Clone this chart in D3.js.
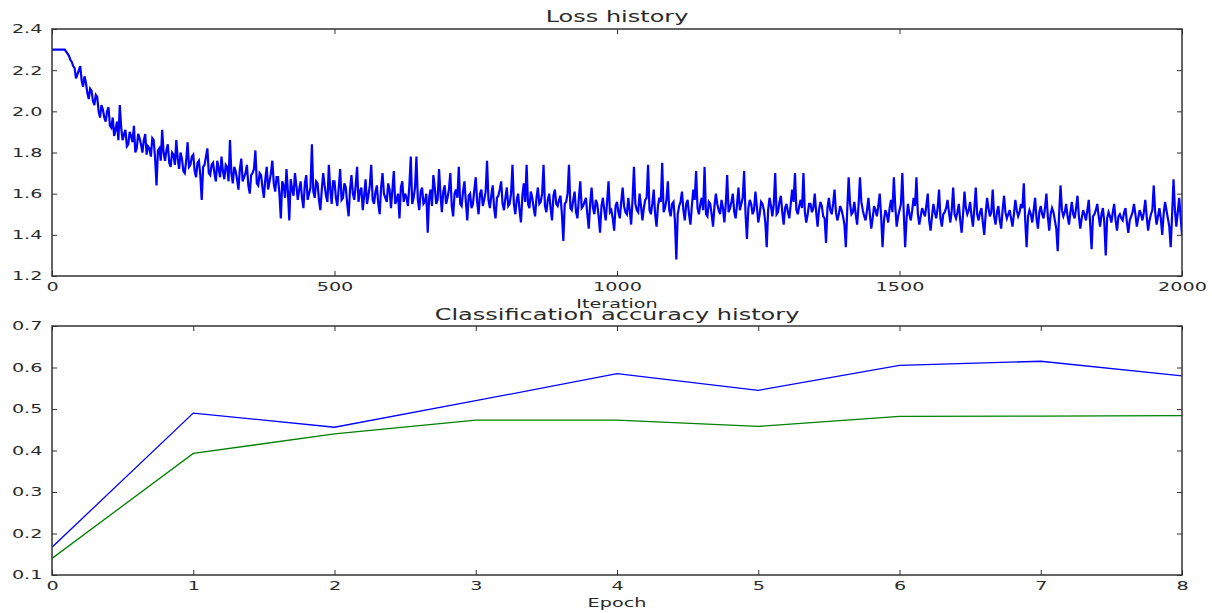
<!DOCTYPE html>
<html>
<head>
<meta charset="utf-8">
<script src="https://cdnjs.cloudflare.com/ajax/libs/d3/7.8.5/d3.min.js"></script>
<style>
  body { margin: 0; background: #fff; }
  text { font-family: "DejaVu Sans", sans-serif; fill: #2a2a2a; }
</style>
</head>
<body>
<div id="chart"></div>
<script>
// loss value every 5 iterations, 0 .. 2000
var lossStep = 5;
var lossValues = [
  2.30,2.30,2.30,2.30,2.30,2.29,2.27,2.24,2.21,2.18,2.22,2.12,2.14,2.06,2.10,2.03,2.07,1.97,2.01,1.95,
  2.02,1.92,1.88,1.95,2.03,1.86,1.91,1.84,1.88,1.93,1.82,1.87,1.80,1.89,1.83,1.78,1.86,1.64,1.82,1.91,
  1.76,1.84,1.73,1.79,1.86,1.72,1.77,1.70,1.85,1.74,1.79,1.68,1.76,1.57,1.74,1.82,1.69,1.75,1.66,1.72,
  1.78,1.67,1.73,1.86,1.65,1.71,1.62,1.77,1.68,1.74,1.60,1.70,1.81,1.64,1.69,1.58,1.73,1.66,1.76,1.61,
  1.68,1.48,1.64,1.72,1.47,1.62,1.70,1.57,1.66,1.53,1.69,1.60,1.84,1.58,1.65,1.52,1.70,1.59,1.74,1.55,
  1.66,1.54,1.72,1.58,1.63,1.49,1.69,1.57,1.73,1.61,1.52,1.67,1.59,1.74,1.55,1.64,1.50,1.70,1.58,1.65,
  1.53,1.71,1.57,1.48,1.66,1.60,1.54,1.78,1.58,1.78,1.52,1.63,1.56,1.41,1.62,1.69,1.55,1.72,1.51,1.64,
  1.58,1.70,1.49,1.62,1.73,1.54,1.66,1.47,1.60,1.55,1.68,1.50,1.62,1.57,1.76,1.53,1.64,1.48,1.59,1.66,
  1.52,1.63,1.55,1.74,1.50,1.60,1.46,1.65,1.74,1.53,1.58,1.49,1.63,1.56,1.74,1.51,1.60,1.47,1.62,1.54,
  1.59,1.37,1.56,1.74,1.52,1.61,1.48,1.66,1.54,1.58,1.43,1.63,1.50,1.55,1.41,1.58,1.47,1.66,1.52,1.42,
  1.56,1.48,1.63,1.51,1.58,1.45,1.73,1.52,1.60,1.47,1.57,1.74,1.50,1.62,1.44,1.58,1.75,1.53,1.66,1.49,
  1.56,1.28,1.54,1.61,1.47,1.57,1.45,1.62,1.71,1.50,1.58,1.73,1.49,1.55,1.44,1.60,1.52,1.57,1.46,1.69,
  1.53,1.60,1.48,1.63,1.55,1.71,1.38,1.57,1.50,1.61,1.46,1.56,1.52,1.34,1.58,1.49,1.70,1.51,1.59,1.45,
  1.55,1.48,1.62,1.70,1.50,1.57,1.70,1.46,1.55,1.51,1.60,1.44,1.56,1.49,1.36,1.58,1.50,1.62,1.47,1.54,
  1.49,1.34,1.68,1.50,1.56,1.45,1.68,1.52,1.47,1.58,1.43,1.54,1.49,1.60,1.34,1.52,1.46,1.57,1.68,1.44,
  1.52,1.70,1.34,1.55,1.47,1.58,1.68,1.45,1.53,1.49,1.60,1.42,1.55,1.48,1.62,1.44,1.51,1.57,1.46,1.63,
  1.48,1.55,1.41,1.61,1.50,1.56,1.44,1.63,1.47,1.53,1.40,1.58,1.49,1.62,1.45,1.54,1.43,1.59,1.48,1.52,
  1.44,1.57,1.49,1.55,1.65,1.34,1.52,1.46,1.58,1.43,1.54,1.48,1.60,1.42,1.53,1.47,1.32,1.64,1.49,1.55,
  1.45,1.56,1.48,1.59,1.43,1.52,1.47,1.57,1.33,1.50,1.55,1.44,1.53,1.30,1.51,1.46,1.55,1.42,1.50,1.47,
  1.53,1.41,1.49,1.55,1.44,1.52,1.47,1.57,1.42,1.50,1.64,1.45,1.53,1.40,1.56,1.48,1.34,1.67,1.44,1.58,
  1.40
];
// loss in between, at iterations 2.5, 7.5, ... 1997.5
var lossMid = [
  2.30,2.30,2.30,2.30,2.30,2.28,2.25,2.22,2.16,2.20,2.15,2.17,2.09,2.11,2.05,2.08,2.00,2.03,1.97,2.00,
  1.93,1.97,1.91,1.86,1.92,1.89,1.83,1.90,1.85,1.80,1.89,1.84,1.86,1.79,1.82,1.87,1.77,1.81,1.76,1.80,
  1.81,1.75,1.80,1.74,1.77,1.80,1.71,1.76,1.73,1.78,1.71,1.75,1.69,1.73,1.78,1.70,1.74,1.70,1.76,1.68,
  1.71,1.74,1.66,1.70,1.73,1.67,1.72,1.66,1.70,1.64,1.69,1.72,1.65,1.70,1.63,1.67,1.62,1.70,1.65,1.68,
  1.60,1.66,1.58,1.61,1.67,1.59,1.64,1.62,1.58,1.65,1.57,1.63,1.61,1.66,1.57,1.62,1.64,1.56,1.62,1.66,
  1.58,1.63,1.57,1.65,1.55,1.62,1.60,1.64,1.56,1.63,1.59,1.55,1.64,1.57,1.61,1.55,1.63,1.60,1.56,1.62,
  1.62,1.55,1.60,1.63,1.56,1.58,1.64,1.55,1.63,1.57,1.61,1.55,1.60,1.58,1.54,1.63,1.57,1.60,1.61,1.55,
  1.62,1.54,1.60,1.58,1.55,1.61,1.56,1.59,1.53,1.62,1.56,1.60,1.54,1.61,1.57,1.59,1.53,1.58,1.62,1.55,
  1.58,1.54,1.60,1.55,1.57,1.52,1.59,1.56,1.55,1.61,1.53,1.58,1.55,1.60,1.54,1.57,1.53,1.59,1.55,1.57,
  1.50,1.55,1.60,1.53,1.57,1.51,1.58,1.53,1.56,1.50,1.55,1.53,1.57,1.49,1.54,1.52,1.56,1.51,1.48,1.54,
  1.51,1.56,1.54,1.50,1.52,1.57,1.55,1.51,1.54,1.53,1.58,1.52,1.55,1.50,1.54,1.56,1.51,1.57,1.52,1.55,
  1.47,1.50,1.56,1.52,1.55,1.50,1.54,1.57,1.53,1.55,1.52,1.50,1.56,1.50,1.54,1.55,1.50,1.53,1.55,1.51,
  1.56,1.51,1.55,1.52,1.58,1.50,1.53,1.55,1.52,1.54,1.50,1.55,1.46,1.52,1.54,1.55,1.50,1.56,1.51,1.53,
  1.51,1.55,1.56,1.52,1.54,1.53,1.51,1.50,1.55,1.53,1.51,1.52,1.54,1.48,1.53,1.52,1.55,1.51,1.50,1.52,
  1.45,1.52,1.55,1.51,1.50,1.54,1.56,1.49,1.52,1.50,1.48,1.52,1.54,1.49,1.47,1.50,1.53,1.51,1.54,1.49,
  1.55,1.51,1.48,1.50,1.52,1.54,1.50,1.49,1.51,1.54,1.47,1.49,1.51,1.53,1.48,1.50,1.53,1.51,1.52,1.50,
  1.51,1.47,1.50,1.53,1.52,1.49,1.53,1.50,1.51,1.46,1.50,1.53,1.51,1.49,1.51,1.47,1.52,1.51,1.50,1.48,
  1.50,1.52,1.51,1.53,1.47,1.49,1.50,1.52,1.48,1.51,1.50,1.53,1.49,1.50,1.51,1.43,1.50,1.52,1.51,1.49,
  1.51,1.50,1.53,1.49,1.48,1.50,1.52,1.45,1.49,1.52,1.49,1.50,1.46,1.48,1.49,1.51,1.47,1.49,1.48,1.51,
  1.46,1.47,1.51,1.50,1.48,1.50,1.51,1.49,1.47,1.52,1.51,1.49,1.48,1.50,1.52,1.44,1.50,1.52,1.51,1.49
];
var lossXTicks = [0, 500, 1000, 1500, 2000];
var lossYTicks = [1.2, 1.4, 1.6, 1.8, 2.0, 2.2, 2.4];

// accuracy per epoch
var epochs = [0, 1, 2, 3, 4, 5, 6, 7, 8];
var trainAcc = [0.167, 0.490, 0.456, 0.520, 0.585, 0.545, 0.605, 0.615, 0.580];
var valAcc = [0.140, 0.393, 0.440, 0.473, 0.473, 0.458, 0.482, 0.483, 0.484];
var accYTicks = [0.1, 0.2, 0.3, 0.4, 0.5, 0.6, 0.7];

var svgWidth = 1212, svgHeight = 613;
// the picture is stretched sideways, so text is too
var stretch = "scale(1.6,1)";

var svg = d3.select("#chart")
    .append("svg")
    .attr("width", svgWidth)
    .attr("height", svgHeight);

function drawPanel(opt) {
    var width = opt.right - opt.left;
    var height = opt.bottom - opt.top;
    var g = svg.append("g")
        .attr("transform", `translate(${opt.left}, ${opt.top})`);

    var x = d3.scaleLinear().domain(opt.xDomain).range([0, width]);
    var y = d3.scaleLinear().domain(opt.yDomain).range([height, 0]);

    // inward ticks on all four sides, like old matplotlib
    var bottomAxis = g.append("g")
        .attr("transform", `translate(0, ${height})`)
        .call(d3.axisBottom(x).tickValues(opt.xTicks).tickSize(-5).tickPadding(6)
            .tickFormat(d3.format("d")));
    var leftAxis = g.append("g")
        .call(d3.axisLeft(y).tickValues(opt.yTicks).tickSize(-5).tickPadding(6)
            .tickFormat(d3.format(".1f")));
    g.append("g")
        .call(d3.axisTop(x).tickValues(opt.xTicks).tickSize(-5).tickFormat(""));
    g.append("g")
        .attr("transform", `translate(${width}, 0)`)
        .call(d3.axisRight(y).tickValues(opt.yTicks).tickSize(-5).tickFormat(""));

    g.selectAll(".domain").remove();
    g.selectAll(".tick line").attr("stroke", "#333").attr("stroke-width", 1);
    g.selectAll(".tick text")
        .attr("fill", "#2a2a2a")
        .style("font-size", "12px")
        .style("font-family", "DejaVu Sans");
    bottomAxis.selectAll(".tick text").attr("transform", stretch);
    leftAxis.selectAll(".tick text").attr("x", -6).attr("transform", stretch);

    // lines
    var clip = "clip" + opt.top;
    g.append("clipPath").attr("id", clip)
        .append("rect").attr("width", width).attr("height", height);
    opt.series.forEach(function(s) {
        var line = d3.line()
            .x(d => x(d[0]))
            .y(d => y(d[1]));
        g.append("path")
            .datum(s.points)
            .attr("clip-path", `url(#${clip})`)
            .attr("fill", "none")
            .attr("stroke", s.color)
            .attr("stroke-width", s.width)
            .attr("stroke-linejoin", "miter")
            .attr("d", line);
    });

    // frame
    g.append("rect")
        .attr("width", width)
        .attr("height", height)
        .attr("fill", "none")
        .attr("stroke", "#333")
        .attr("stroke-width", 1.5);

    // title and x label
    g.append("g")
        .attr("transform", `translate(${width / 2}, ${opt.titleY}) ${stretch}`)
        .append("text")
        .attr("text-anchor", "middle")
        .style("font-size", "15px")
        .text(opt.title);
    g.append("g")
        .attr("transform", `translate(${width / 2}, ${opt.labelY}) ${stretch}`)
        .append("text")
        .attr("text-anchor", "middle")
        .style("font-size", "12px")
        .text(opt.xLabel);
}

// interleave the two loss arrays into one series
var lossPoints = [];
lossValues.forEach(function(v, i) {
    lossPoints.push([i * lossStep, v]);
    if (i < lossMid.length) lossPoints.push([i * lossStep + lossStep / 2, lossMid[i]]);
});

drawPanel({
    left: 52, right: 1182, top: 29, bottom: 276,
    xDomain: [0, 2000], yDomain: [1.2, 2.4],
    xTicks: lossXTicks, yTicks: lossYTicks,
    title: "Loss history", titleY: -7,
    xLabel: "Iteration", labelY: 279,
    series: [{ points: lossPoints, color: "#0000ff", width: 2.2 }]
});

drawPanel({
    left: 52, right: 1182, top: 326, bottom: 575,
    xDomain: [0, 8], yDomain: [0.1, 0.7],
    xTicks: epochs, yTicks: accYTicks,
    title: "Classification accuracy history", titleY: -6,
    xLabel: "Epoch", labelY: 281,
    series: [
        { points: epochs.map((e, i) => [e, trainAcc[i]]), color: "#0000ff", width: 1.3 },
        { points: epochs.map((e, i) => [e, valAcc[i]]), color: "#008000", width: 1.3 }
    ]
});
</script>
</body>
</html>
